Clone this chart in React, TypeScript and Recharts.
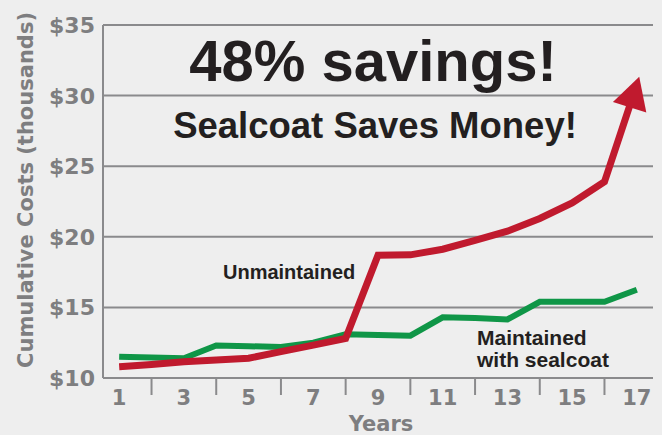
import React from "react";
import {
  LineChart,
  Line,
  XAxis,
  YAxis,
  CartesianGrid,
  Customized,
} from "recharts";

// values, in $ thousands
const years = [1, 2, 3, 4, 5, 6, 7, 8, 9, 10, 11, 12, 13, 14, 15, 16, 17];
const maintained = [
  11.5, 11.45, 11.4, 12.3, 12.25, 12.2, 12.5, 13.1, 13.05, 13.0, 14.3, 14.25,
  14.15, 15.4, 15.4, 15.4, 16.25,
];
const unmaintained = [
  10.8, 10.95, 11.15, 11.28, 11.4, 11.87, 12.33, 12.8, 18.7, 18.72, 19.12,
  19.74, 20.4, 21.3, 22.4, 23.9, 30.8,
];
const yTicks = [10, 15, 20, 25, 30, 35];

const data = years.map((year, i) => ({
  year,
  maintained: maintained[i],
  unmaintained: unmaintained[i],
}));

const GRAY = "#8a8a8c";
const TICK_TEXT = "#7e7e80";
const DARK = "#231f20";
const RED = "#c01a2e";
const GREEN = "#0f9647";
const AXIS_FONT = "'DejaVu Sans', sans-serif";
const NOTE_FONT = "'Liberation Sans', Arial, sans-serif";

const XTick = (props: any) => {
  const { x, y, payload } = props;
  const v = payload.value as number;
  if (v % 2 === 0) {
    return <line x1={x} y1={y} x2={x} y2={y + 17} stroke={GRAY} strokeWidth={2} />;
  }
  return (
    <text
      x={x}
      y={y + 27}
      textAnchor="middle"
      fontFamily={AXIS_FONT}
      fontWeight="bold"
      fontSize={21}
      fill={TICK_TEXT}
    >
      {v}
    </text>
  );
};

const YTick = (props: any) => {
  const { x, y, payload } = props;
  return (
    <text
      x={x}
      y={y}
      dy="0.36em"
      textAnchor="end"
      fontFamily={AXIS_FONT}
      fontWeight="bold"
      fontSize={22}
      fill={TICK_TEXT}
    >
      {`$${payload.value}`}
    </text>
  );
};

// arrow head on the last point of the unmaintained line
const ArrowDot = (props: any) => {
  const { cx, cy, index } = props;
  if (index !== years.length - 1 || cx == null) return <g key={`d${index}`} />;
  const ux = 0.3;
  const uy = -0.954;
  const nx = -uy;
  const ny = ux;
  const tx = cx + ux * 8;
  const ty = cy + uy * 8;
  const bx = tx - ux * 32;
  const by = ty - uy * 32;
  const pts = [
    [tx, ty],
    [bx + nx * 17.5, by + ny * 17.5],
    [bx - nx * 17.5, by - ny * 17.5],
  ]
    .map((p) => p.join(","))
    .join(" ");
  return <polygon key={`d${index}`} points={pts} fill={RED} />;
};

const Notes = () => (
  <g>
    <text
      x={373}
      y={81}
      textAnchor="middle"
      fontFamily={NOTE_FONT}
      fontWeight="bold"
      fontSize={58}
      fill={DARK}
    >
      48% savings!
    </text>
    <text
      x={375}
      y={138}
      textAnchor="middle"
      fontFamily={NOTE_FONT}
      fontWeight="bold"
      fontSize={36.5}
      fill={DARK}
    >
      Sealcoat Saves Money!
    </text>
    <text x={223} y={279} fontFamily={NOTE_FONT} fontWeight="bold" fontSize={20} fill={DARK}>
      Unmaintained
    </text>
    <text x={477} y={345} fontFamily={NOTE_FONT} fontWeight="bold" fontSize={21} fill={DARK}>
      Maintained
    </text>
    <text x={477} y={367} fontFamily={NOTE_FONT} fontWeight="bold" fontSize={21} fill={DARK}>
      with sealcoat
    </text>
    <text
      x={381}
      y={431}
      textAnchor="middle"
      fontFamily={AXIS_FONT}
      fontWeight="bold"
      fontSize={21}
      fill={TICK_TEXT}
    >
      Years
    </text>
    <text
      transform="translate(33, 190) rotate(-90)"
      textAnchor="middle"
      fontFamily={AXIS_FONT}
      fontWeight="bold"
      fontSize={21}
      fill={TICK_TEXT}
    >
      Cumulative Costs (thousands)
    </text>
  </g>
);

export default function App() {
  return (
    <div
      style={{
        position: "absolute",
        left: 0,
        top: 0,
        width: 662,
        height: 435,
        background: "#eeeeee",
      }}
    >
      <LineChart
        width={662}
        height={435}
        data={data}
        margin={{ top: 25, right: 9, left: 0, bottom: 0 }}
      >
        <CartesianGrid vertical={false} stroke={GRAY} strokeWidth={2} />
        <XAxis
          dataKey="year"
          type="number"
          domain={[0.5, 17.5]}
          ticks={years}
          interval={0}
          height={57}
          tickLine={false}
          tickSize={0}
          tickMargin={0}
          axisLine={{ stroke: GRAY, strokeWidth: 2 }}
          tick={<XTick />}
        />
        <YAxis
          domain={[10, 35]}
          ticks={yTicks}
          width={103}
          tickLine={false}
          tickSize={0}
          tickMargin={8}
          axisLine={{ stroke: GRAY, strokeWidth: 2 }}
          tick={<YTick />}
        />
        <Line
          dataKey="maintained"
          stroke={GREEN}
          strokeWidth={6}
          dot={false}
          isAnimationActive={false}
        />
        <Line
          dataKey="unmaintained"
          stroke={RED}
          strokeWidth={7}
          dot={<ArrowDot />}
          activeDot={false}
          isAnimationActive={false}
        />
        <Customized component={Notes} />
      </LineChart>
    </div>
  );
}
